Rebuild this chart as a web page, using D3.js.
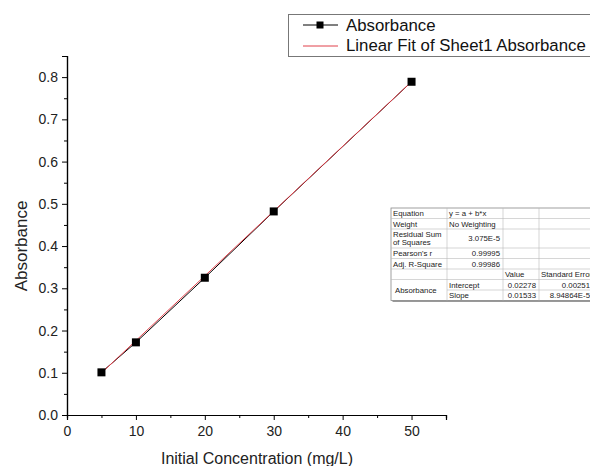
<!DOCTYPE html>
<html><head><meta charset="utf-8">
<script src="https://cdn.jsdelivr.net/npm/d3@7"></script>
<style>body{margin:0;background:#fff;}svg{display:block;font-family:"Liberation Sans",Arial,sans-serif;}</style>
</head><body><svg id="c" width="590" height="466"></svg>
<script>
const concentrations = [5, 10, 20, 30, 50];
const absorbance = [0.101, 0.172, 0.325, 0.482, 0.789];
const fitIntercept = 0.02278;
const fitSlope = 0.01533;
const xTicks = [0, 10, 20, 30, 40, 50];
const yTicks = [0, 0.1, 0.2, 0.3, 0.4, 0.5, 0.6, 0.7, 0.8];
const legendLabels = ["Absorbance", "Linear Fit of Sheet1 Absorbance"];
const tableRows = [
  ["Equation", "y = a + b*x", "", ""],
  ["Weight", "No Weighting", "", ""],
  ["Residual Sum\nof Squares", "3.075E-5", "", ""],
  ["Pearson's r", "0.99995", "", ""],
  ["Adj. R-Square", "0.99986", "", ""],
  ["", "", "Value", "Standard Error"],
  ["Absorbance", "Intercept", "0.02278", "0.00251"],
  ["", "Slope", "0.01533", "8.94864E-5"]
];

const svg = d3.select("#c");
const x = d3.scaleLinear().domain([0, 55]).range([67, 446]);
const y = d3.scaleLinear().domain([0, 0.85]).range([415, 56]);

const xAxis = d3.axisBottom(x).tickValues(xTicks).tickFormat(d3.format("d")).tickSize(5).tickPadding(6);
const xMinor = d3.axisBottom(x).tickValues(d3.range(5, 56, 10)).tickFormat("").tickSize(3);
const yAxis = d3.axisLeft(y).tickValues(yTicks).tickFormat(d3.format(".1f")).tickSize(5).tickPadding(4);
const yMinor = d3.axisLeft(y).tickValues(d3.range(0.05, 0.85, 0.1)).tickFormat("").tickSize(3);

function styleAxis(g){
  g.select(".domain").attr("stroke","#000").attr("stroke-width",1.2);
  g.selectAll(".tick line").attr("stroke","#000").attr("stroke-width",1);
  g.selectAll(".tick text").attr("fill","#222").style("font-size","14px").style("font-family",'"Liberation Sans",Arial,sans-serif');
}
svg.append("g").attr("transform","translate(0,415)").call(xMinor).call(styleAxis);
svg.append("g").attr("transform","translate(0,415)").call(xAxis).call(styleAxis);
svg.append("g").attr("transform","translate(67,0)").call(yMinor).call(styleAxis);
svg.append("g").attr("transform","translate(67,0)").call(yAxis).call(styleAxis);

svg.append("text").attr("x",257).attr("y",464).attr("text-anchor","middle").attr("fill","#222")
  .style("font-size","16px").text("Initial Concentration (mg/L)");
svg.append("text").attr("transform","translate(27,246) rotate(-90)").attr("text-anchor","middle").attr("fill","#222")
  .style("font-size","17px").text("Absorbance");

const pts = concentrations.map((c,i)=>[c, absorbance[i]]);
const line = d3.line().x(d=>x(d[0])).y(d=>y(d[1]));
svg.append("path").datum(pts).attr("d",line).attr("fill","none").attr("stroke","#000").attr("stroke-width",1);

const fitX = [concentrations[0], concentrations[concentrations.length-1]];
svg.append("path").datum(fitX.map(c=>[c, fitIntercept + fitSlope*c])).attr("d",line)
  .attr("fill","none").attr("stroke","#e0404a").attr("stroke-width",1);

svg.selectAll("rect.m").data(pts).enter().append("rect").attr("class","m")
  .attr("x",d=>x(d[0])-4).attr("y",d=>y(d[1])-4).attr("width",8).attr("height",8).attr("fill","#000");

// legend
const lg = svg.append("g");
lg.append("rect").attr("x",288.5).attr("y",14.5).attr("width",320).attr("height",42).attr("fill","#fff").attr("stroke","#777").attr("stroke-width",1);
lg.append("line").attr("x1",303).attr("x2",338).attr("y1",25).attr("y2",25).attr("stroke","#000");
lg.append("rect").attr("x",316.5).attr("y",21.5).attr("width",7).attr("height",7).attr("fill","#000");
lg.append("line").attr("x1",303).attr("x2",338).attr("y1",46).attr("y2",46).attr("stroke","#e0404a");
lg.selectAll("text").data(legendLabels).enter().append("text")
  .attr("x",346).attr("y",(d,i)=>31+i*20).attr("fill","#111").style("font-size","16.8px").text(d=>d);

// fit table
const colX = [391, 447, 503, 539, 600];
const rowY = [208, 218.5, 229, 248, 258.5, 269, 279.5, 290, 300.5];
const tg = svg.append("g");
tg.append("rect").attr("x",colX[0]+1.5).attr("y",rowY[0]+1.5).attr("width",colX[4]-colX[0]).attr("height",rowY[8]-rowY[0]).attr("fill","#999");
tg.append("rect").attr("x",colX[0]).attr("y",rowY[0]).attr("width",colX[4]-colX[0]).attr("height",rowY[8]-rowY[0]).attr("fill","#fff").attr("stroke","#888").attr("stroke-width",0.8);
rowY.slice(1,8).forEach((ry,i)=>{
  const r = i+1;
  const x0 = (r===7) ? colX[1] : colX[0];
  tg.append("line").attr("x1",x0).attr("x2",colX[4]).attr("y1",ry).attr("y2",ry).attr("stroke","#bbb").attr("stroke-width",0.6);
});
colX.slice(1,4).forEach(cx=>{
  tg.append("line").attr("x1",cx).attr("x2",cx).attr("y1",rowY[0]).attr("y2",rowY[8]).attr("stroke","#bbb").attr("stroke-width",0.6);
});
const fs = "7.8px";
tableRows.forEach((row,r)=>{
  row.forEach((cell,c)=>{
    if(!cell) return;
    const lines = cell.split("\n");
    let cy = (rowY[r]+rowY[r+1])/2 + 2.8;
    if (lines.length>1) cy = rowY[r] + 8;
    if (r===6 && c===0) cy = rowY[7] + 2.8;
    let anchor = "start", tx = colX[c]+2;
    const numeric = (r>=2 && r<=4 && c===1) || (r>=6 && c>=2);
    if (numeric) { anchor="end"; tx = (c===3 ? 590 : colX[c+1]-3); }
    if (r===5) { anchor="start"; tx = colX[c]+2; }
    if (r===6 && c===0) { tx = colX[0]+4; }
    lines.forEach((ln,k)=>{
      tg.append("text").attr("x",tx).attr("y",cy+k*8).attr("text-anchor",anchor).attr("fill","#222")
        .style("font-size",fs).text(ln);
    });
  });
});
</script></body></html>
